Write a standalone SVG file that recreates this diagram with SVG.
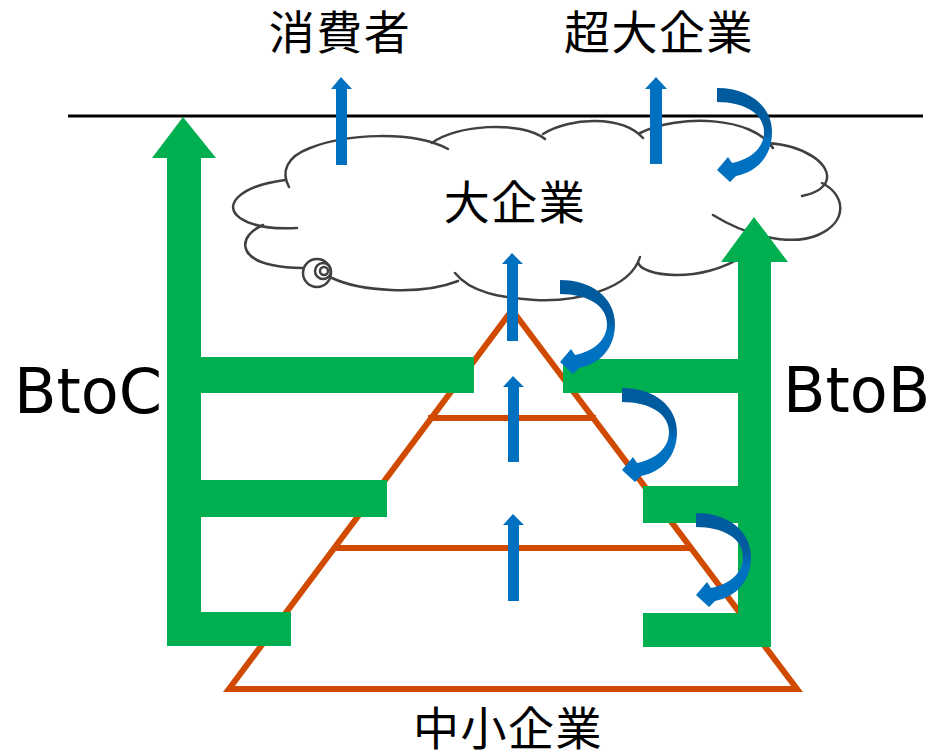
<svg xmlns="http://www.w3.org/2000/svg" width="933" height="753" viewBox="0 0 933 753">
  <defs>
    <style>
      .lbl { font-family: 'Noto Sans CJK JP', 'Noto Sans CJK SC', sans-serif; font-size: 46px; fill: #000; letter-spacing: 1.5px; text-anchor: middle; }
      .lat { font-family: 'DejaVu Sans', 'Noto Sans', sans-serif; font-size: 62px; fill: #000; }
      .cloud { fill: none; stroke: #404040; stroke-width: 2.5; stroke-linecap: round; }
      .pyr { fill: none; stroke: #D04A02; stroke-width: 6; stroke-linejoin: miter; }
      .grn { fill: #00B050; }
      .up { fill: #0070C0; }
      .turn { fill: url(#turnGrad); }
    </style>
    <linearGradient id="turnGrad" x1="0" y1="0" x2="0" y2="1">
      <stop offset="0" stop-color="#005A9E"/>
      <stop offset="0.42" stop-color="#005C9F"/>
      <stop offset="0.56" stop-color="#0070C0"/>
      <stop offset="1" stop-color="#0070C0"/>
    </linearGradient>
    <!-- curved turn-back arrow, origin at top-left of its band -->
    <path id="turnArrow" d="M 0,0 C 32,0 55,18 55,44 C 55,68 40,84 19,88 L 13,94 L 0,82 L 11,69 L 15,75 C 34,71 47,60 47,44 C 47,26 28,14 0,14 Z"/>
  </defs>

  <rect width="933" height="753" fill="#fff"/>

  <!-- market boundary -->
  <g id="boundary">
    <line x1="68" y1="116" x2="923" y2="116" stroke="#000" stroke-width="3"/>
  </g>

  <!-- large enterprises cloud -->
  <g id="large-enterprise">
    <path class="cloud" d="M 289,187 C 281,172 286,157 310,148 C 345,134 412,130 448,149"/>
    <path class="cloud" d="M 432,143 C 455,125 520,120 545,139"/>
    <path class="cloud" d="M 543,134 C 570,117 622,115 643,138"/>
    <path class="cloud" d="M 640,133 C 680,114 752,116 773,148"/>
    <path class="cloud" d="M 767,143 C 805,145 833,165 826,182 C 822,190 812,194 802,196"/>
    <path class="cloud" d="M 822,183 C 846,195 848,222 818,235 C 790,247 745,235 713,215"/>
    <path class="cloud" d="M 638,262 C 640,276 700,285 745,255"/>
    <path class="cloud" d="M 640,257 C 630,290 575,302 535,300 C 500,298 470,292 455,273"/>
    <path class="cloud" d="M 332,278 C 360,291 420,296 458,281"/>
    <path class="cloud" d="M 263,225 C 238,236 238,258 272,265 C 285,268 296,268 303,268"/>
    <path class="cloud" d="M 285,180 C 240,186 222,205 240,218 C 255,228 280,229 297,228"/>
    <circle class="cloud" cx="317" cy="273" r="14"/>
    <circle class="cloud" cx="323" cy="271" r="8"/>
    <circle class="cloud" cx="324" cy="271" r="4"/>
    <text class="lbl" x="515" y="219">大企業</text>
  </g>

  <!-- SME pyramid -->
  <g id="sme">
    <polygon class="pyr" points="512,310 797,689 229,689"/>
    <line class="pyr" x1="428" y1="418" x2="596" y2="418"/>
    <line class="pyr" x1="333" y1="548" x2="692" y2="548"/>
    <text class="lbl" x="508" y="745">中小企業</text>
  </g>

  <!-- BtoC channel -->
  <g id="btoc">
    <polygon class="grn" points="183,117 216,158 201,158 201,357 474,357 474,393 201,393 201,480 387,480 387,517 201,517 201,612 291,612 291,646 167,646 167,158 152,158"/>
    <text class="lat" x="14" y="413">BtoC</text>
  </g>

  <!-- BtoB channel -->
  <g id="btob">
    <polygon class="grn" points="754,217 788,262 771,262 771,647 643,647 643,613 738,613 738,523 643,523 643,486 738,486 738,393 563,393 563,359 738,359 738,262 721,262"/>
    <text class="lat" x="783" y="412">BtoB</text>
  </g>

  <!-- outlets -->
  <g id="consumer">
    <text class="lbl" x="340" y="49">消費者</text>
  </g>
  <g id="mega-enterprise">
    <text class="lbl" x="659" y="49">超大企業</text>
  </g>

  <!-- growth and turn-back arrows -->
  <g id="connectors">
    <polygon class="up" points="341,77 352,89 347,89 347,165 336,165 336,89 331,89"/>
    <polygon class="up" points="656,77 667,89 662,89 662,164 650,164 650,89 645,89"/>
    <polygon class="up" points="512,253 523,264 518,264 518,341 507,341 507,264 502,264"/>
    <polygon class="up" points="513,376 524,387 519,387 519,462 508,462 508,387 503,387"/>
    <polygon class="up" points="513,514 524,525 519,525 519,601 508,601 508,525 503,525"/>
    <use href="#turnArrow" class="turn" x="717" y="88"/>
    <use href="#turnArrow" class="turn" x="560" y="280"/>
    <use href="#turnArrow" class="turn" x="622" y="388"/>
    <use href="#turnArrow" class="turn" x="696" y="513"/>
  </g>
</svg>
